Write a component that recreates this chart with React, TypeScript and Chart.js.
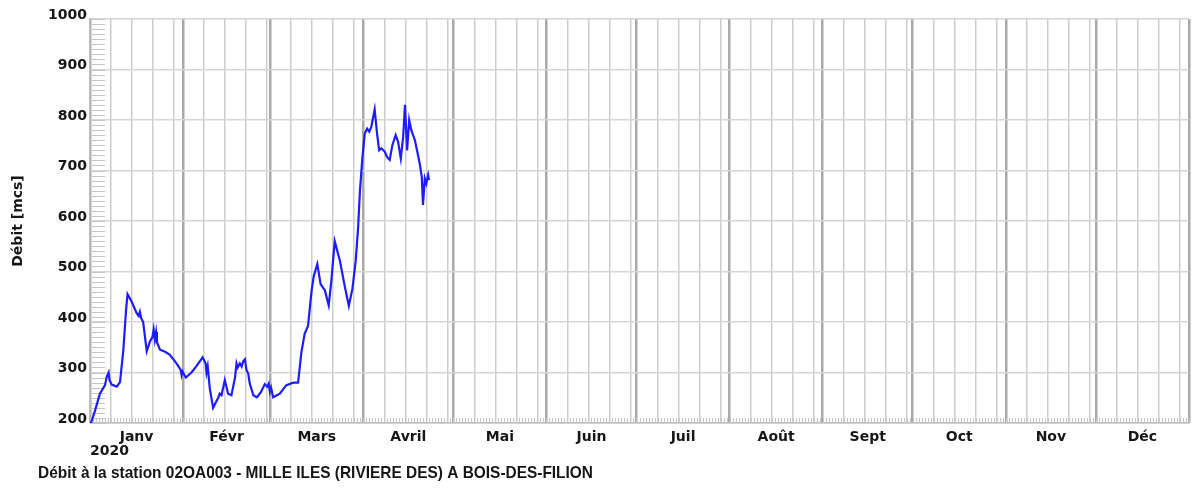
import React, { useEffect, useRef } from 'react';
import { Chart, registerables } from 'chart.js';

Chart.register(...registerables);

// ---- data ----
const MONTH_LABELS = ['Janv', 'Févr', 'Mars', 'Avril', 'Mai', 'Juin', 'Juil', 'Août', 'Sept', 'Oct', 'Nov', 'Déc'];
const MONTH_LENGTHS = [31, 29, 31, 30, 31, 30, 31, 31, 30, 31, 30, 31];
const WEEK_OFFSETS = [7, 14, 21, 28];
const YEAR_LABEL = '2020';
const Y_TITLE = 'Débit [mcs]';
const CHART_TITLE = 'Débit à la station 02OA003 - MILLE ILES (RIVIERE DES) A BOIS-DES-FILION';
const Y_MIN = 200;
const Y_MAX = 1000;
const Y_STEP = 100;
const Y_MINOR_STEP = 10;

// day offset from 1 Jan 2020
const DAYS = [
  0, 0.6, 1.7, 3.3, 5, 5.5, 6.2, 6.5, 7.2, 8.9, 10, 11.1, 12, 12.5, 13.9, 15.5, 16.2, 16.6, 17, 17.7,
  18.9, 20, 20.8, 21.2, 21.6, 22, 22.3, 23.3, 25, 26.6, 28.8, 30.2, 30.5, 30.8, 31.9, 33.8, 35.5, 37.5, 38.5, 38.8,
  39.2, 39.9, 41, 42.7, 43.2, 43.8, 44.9, 46, 47.1, 48.3, 48.8, 49.2, 49.9, 50.5, 51, 51.6, 52.1, 52.7, 53.2, 54.4,
  55.5, 56, 57, 58.2, 59, 59.5, 59.9, 60.3, 61, 63.2, 65.4, 67.7, 69.3, 70.4, 71.5, 72.6, 73.8, 74.5, 75.7, 76.8,
  78.2, 79.5, 80.4, 81.5, 83.2, 84.9, 86.2, 87.4, 88.5, 89.3, 89.9, 90.7, 91.5, 92.3, 93, 93.7, 94.8, 95.6, 96.3, 97,
  98.2, 98.9, 99.8, 100.7, 101.8, 102.6, 103.5, 104.3, 104.9, 105.6, 106.3, 107, 108.2, 108.9, 109.8, 110.5, 110.9, 111.5, 112, 112.6,
  112.9,
];
const FLOW = [
  195, 205, 225, 258, 275, 290, 300, 285, 276, 272, 281, 344, 423, 455, 440, 418, 412, 420, 408, 400,
  342, 362, 370, 385, 365, 380, 360, 345, 341, 335, 318, 305, 295, 302, 290, 300, 313, 330, 318, 300,
  312, 268, 230, 250, 258, 255, 285, 258, 255, 290, 318, 310, 318, 312, 322, 326, 305, 298, 278, 255,
  251, 254, 262, 277, 272, 278, 262, 270, 251, 258, 275, 280, 280, 340, 377, 392, 462, 490, 515, 475,
  463, 433, 483, 560, 522, 469, 432, 466, 522, 588, 660, 724, 773, 783, 777, 787, 821, 773, 740, 744,
  737, 727, 721, 750, 770, 757, 724, 767, 830, 740, 800, 780, 760, 740, 714, 687, 632, 684, 674, 691,
  681,
];

// ---- derived ticks ----
const TOTAL_DAYS = MONTH_LENGTHS.reduce((a, b) => a + b, 0);
type TickKind = 'month' | 'week' | 'label';
const tickKinds = new Map<number, TickKind>();
const tickLabels = new Map<number, string>();
{
  let start = 0;
  MONTH_LENGTHS.forEach((len, i) => {
    tickKinds.set(start, 'month');
    WEEK_OFFSETS.forEach((w) => {
      if (w < len) tickKinds.set(start + w, 'week');
    });
    const mid = start + len / 2;
    tickKinds.set(mid, 'label');
    tickLabels.set(mid, MONTH_LABELS[i]);
    start += len;
  });
  tickKinds.set(start, 'month');
}
const X_TICK_VALUES = Array.from(tickKinds.keys()).sort((a, b) => a - b);

const FONT_FAMILY = '"DejaVu Sans", Verdana, sans-serif';
const TEXT_COLOR = '#161616';

const minorTicksPlugin = {
  id: 'minorTicks',
  beforeDatasetsDraw(chart: any) {
    const { ctx, chartArea, scales } = chart;
    const x = scales.x;
    const y = scales.y;
    ctx.save();
    ctx.strokeStyle = '#c6c6c6';
    ctx.lineWidth = 1;
    ctx.beginPath();
    for (let v = Y_MIN; v <= Y_MAX; v += Y_MINOR_STEP) {
      const py = Math.round(y.getPixelForValue(v)) + 0.5;
      ctx.moveTo(chartArea.left, py);
      ctx.lineTo(chartArea.left + 15, py);
    }
    for (let d = 0; d <= TOTAL_DAYS; d++) {
      const px = Math.round(x.getPixelForValue(d)) + 0.5;
      ctx.moveTo(px, chartArea.bottom);
      ctx.lineTo(px, chartArea.bottom - 5);
    }
    ctx.stroke();
    ctx.restore();
  },
};

const bottomTitlePlugin = {
  id: 'bottomTitle',
  afterDraw(chart: any) {
    const { ctx } = chart;
    ctx.save();
    ctx.font = 'bold 17px "Liberation Sans", Arial, sans-serif';
    ctx.fillStyle = TEXT_COLOR;
    ctx.textBaseline = 'middle';
    ctx.textAlign = 'left';
    ctx.fillText(CHART_TITLE, 38, 473, 555);
    ctx.restore();
  },
};

export default function App() {
  const canvasRef = useRef<HTMLCanvasElement>(null);

  useEffect(() => {
    const canvas = canvasRef.current;
    if (!canvas) return;
    const chart = new Chart(canvas, {
      type: 'line',
      data: {
        datasets: [
          {
            data: DAYS.map((d, i) => ({ x: d, y: FLOW[i] })),
            borderColor: '#1c1cff',
            borderWidth: 2.2,
            pointRadius: 0,
            tension: 0,
            fill: false,
          },
        ],
      },
      options: {
        animation: false,
        responsive: true,
        maintainAspectRatio: false,
        layout: { padding: { top: 19, right: 2, left: 0, bottom: 0 } },
        plugins: {
          legend: { display: false },
          title: { display: false },
          tooltip: { enabled: false },
        },
        scales: {
          x: {
            type: 'linear',
            min: 0,
            max: TOTAL_DAYS,
            afterBuildTicks: (scale: any) => {
              scale.ticks = X_TICK_VALUES.map((v) => ({ value: v }));
            },
            afterFit: (scale: any) => {
              scale.height = 66;
            },
            grid: {
              drawTicks: false,
              color: (ctx: any) => {
                const k = tickKinds.get(ctx.tick?.value);
                if (k === 'month') return '#a9a9a9';
                if (k === 'week') return '#cdcdcd';
                return 'rgba(0,0,0,0)';
              },
              lineWidth: (ctx: any) => {
                const k = tickKinds.get(ctx.tick?.value);
                if (k === 'month') return 2.5;
                if (k === 'week') return 1.5;
                return 0;
              },
            },
            border: { display: true, color: '#bdbdbd', width: 1.5 },
            ticks: {
              autoSkip: false,
              maxRotation: 0,
              minRotation: 0,
              padding: 6,
              color: TEXT_COLOR,
              font: { family: FONT_FAMILY, size: 14, weight: 'bold' },
              callback: (value: any) => tickLabels.get(Number(value)) ?? '',
            },
            title: {
              display: true,
              text: YEAR_LABEL,
              align: 'start',
              color: TEXT_COLOR,
              font: { family: FONT_FAMILY, size: 14, weight: 'bold' },
              padding: { top: 0, bottom: 29 },
            },
          },
          y: {
            type: 'linear',
            min: Y_MIN,
            max: Y_MAX,
            afterFit: (scale: any) => {
              scale.width = 90;
            },
            grid: { drawTicks: false, color: '#d6d6d6', lineWidth: 1.5 },
            border: { display: true, color: '#bdbdbd', width: 1.5 },
            ticks: {
              stepSize: Y_STEP,
              padding: 3,
              labelOffset: -4,
              color: TEXT_COLOR,
              font: { family: FONT_FAMILY, size: 14, weight: 'bold' },
              callback: (value: any) => String(value),
            },
            title: {
              display: true,
              text: Y_TITLE,
              color: TEXT_COLOR,
              font: { family: FONT_FAMILY, size: 14, weight: 'bold' },
              padding: { top: 10, bottom: 0 },
            },
          },
        },
      },
      plugins: [minorTicksPlugin, bottomTitlePlugin],
    } as any);
    return () => chart.destroy();
  }, []);

  return (
    <div style={{ position: 'fixed', left: 0, top: 0, width: 1195, height: 489, background: '#fff' }}>
      <canvas ref={canvasRef} />
    </div>
  );
}
